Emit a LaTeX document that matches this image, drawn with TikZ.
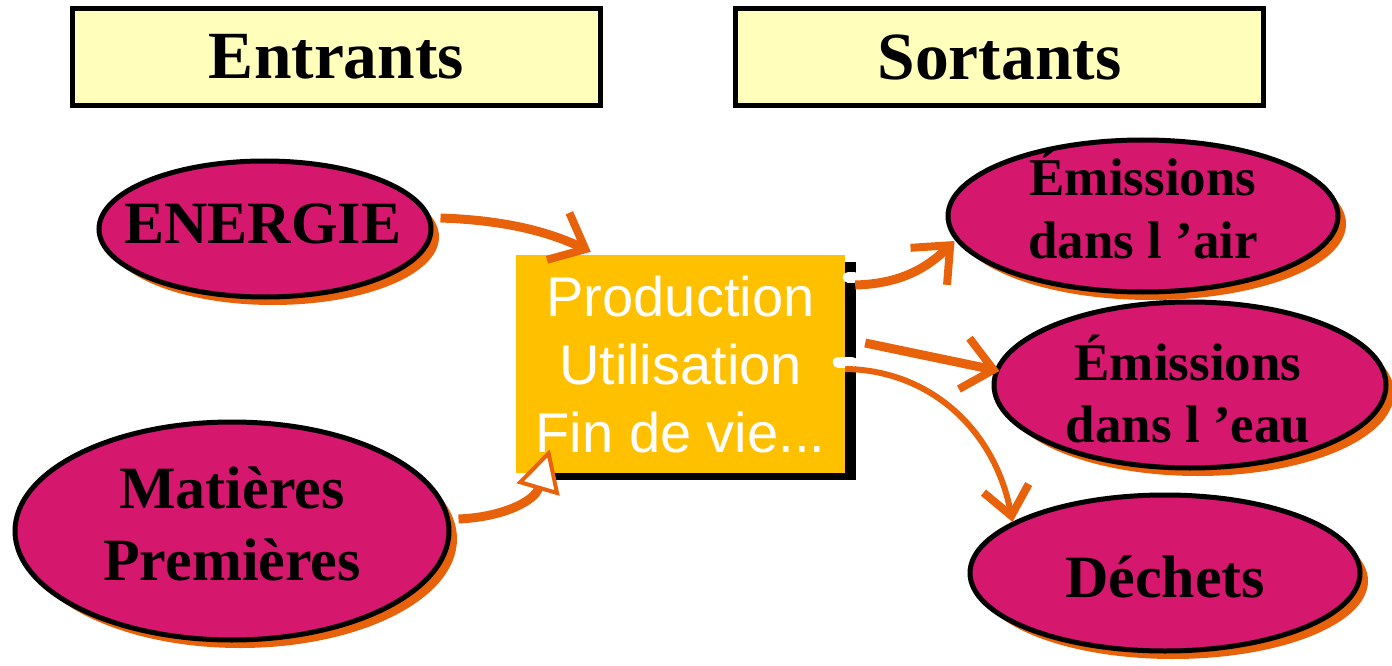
\documentclass[tikz,border=0pt]{standalone}
\usepackage{fontspec}
\setmainfont{Liberation Serif}
\newfontfamily\arialf{Liberation Sans}
\usetikzlibrary{shapes.geometric,shadows,arrows.meta}
\definecolor{mag}{HTML}{D5186E}
\definecolor{orng}{HTML}{E8620C}
\definecolor{hdr}{HTML}{FFFFBB}
\definecolor{gold}{HTML}{FFC000}
\begin{document}
\begin{tikzpicture}[x=1pt,y=-1pt,
  hdrbox/.style={draw=black,line width=5.5pt,fill=hdr,minimum width=528pt,minimum height=97pt,inner sep=0pt,font=\bfseries\fontsize{67.5}{70}\selectfont},
  blob/.style={ellipse,draw=black,line width=5pt,fill=mag,inner sep=0pt,drop shadow={shadow xshift=8pt,shadow yshift=-8pt,fill=orng,opacity=1}},
  lbl/.style={anchor=base,inner sep=0pt,font=\bfseries\fontsize{60}{72}\selectfont},
  slbl/.style={anchor=base,inner sep=0pt,font=\bfseries\fontsize{53}{63}\selectfont},
  procbox/.style={rectangle,fill=gold,minimum width=329pt,minimum height=218pt,inner sep=0pt,align=center,text=white,font=\arialf\fontsize{56}{68}\selectfont,drop shadow={shadow xshift=11pt,shadow yshift=-7pt,fill=black,opacity=1}},
  flow/.style={draw=orng,line width=9pt,-{Straight Barb[length=30pt,width=52pt,line width=8pt]}},
  flowthin/.style={draw=orng,line width=6pt,-{Straight Barb[length=28pt,width=46pt,line width=8pt]}},
  flowfill/.style={draw=orng,line width=9pt,-{Triangle[length=42pt,width=44pt,fill=white,line width=4pt]}},
  dot/.style={draw=white,line width=11pt,line cap=round}
]
\useasboundingbox (0,0) rectangle (1392,666);

% headers
\node[hdrbox] (entrants) at (336.5,57) {Entrants};
\node[hdrbox] (sortants) at (999.5,57) {Sortants};

% central box
\node[procbox] (proc) at (680.5,364) {Production\\Utilisation\\Fin de vie...};

% ellipses
\node[blob,minimum width=332pt,minimum height=136pt] (energie) at (265,229) {};
\node[lbl] (energie-t) at (263,243) {ENERGIE};

\node[blob,minimum width=434pt,minimum height=218pt] (mat) at (232,531) {};
\node[lbl] (mat-t1) at (232,508) {Matières};
\node[lbl] (mat-t2) at (232,580) {Premières};

\node[blob,minimum width=390pt,minimum height=152pt] (air) at (1143,216) {};
\node[slbl] (air-t1) at (1143,195) {Émissions};
\node[slbl] (air-t2) at (1143,258) {dans l ’air};

\node[blob,minimum width=392pt,minimum height=166pt] (eau) at (1190,385) {};
\node[slbl] (eau-t1) at (1188,380) {Émissions};
\node[slbl] (eau-t2) at (1188,442) {dans l ’eau};

\node[blob,minimum width=390pt,minimum height=156pt] (dechets) at (1165,573) {};
\node[lbl] (dechets-t) at (1165,597) {Déchets};

% connectors
\draw[flow] ([shift={(7,-11)}]energie.east) .. controls (500,220) and (545,230) .. ([shift={(75,-3)}]proc.north west);
\draw[flowfill] ([shift={(7,-12)}]mat.east) .. controls (505,517) and (535,500) .. ([shift={(34,-24)}]proc.south west);

\draw[dot] ([shift={(3,-87)}]proc.east) -- ([shift={(9,-87)}]proc.east);
\draw[flow] ([shift={(10,-79)}]proc.east) .. controls (890,284) and (920,275) .. ([shift={(9,25)}]air.west);

\draw[flow] ([shift={(20,-21)}]proc.east) -- ([shift={(8,-14)}]eau.west);

\draw[dot] ([shift={(-7,-2)}]proc.east) -- ([shift={(7,-2)}]proc.east);
\draw[flowthin] ([shift={(0,5)}]proc.east) .. controls (930,370) and (995,430) .. ([shift={(45,-51)}]dechets.west);
\end{tikzpicture}
\end{document}
